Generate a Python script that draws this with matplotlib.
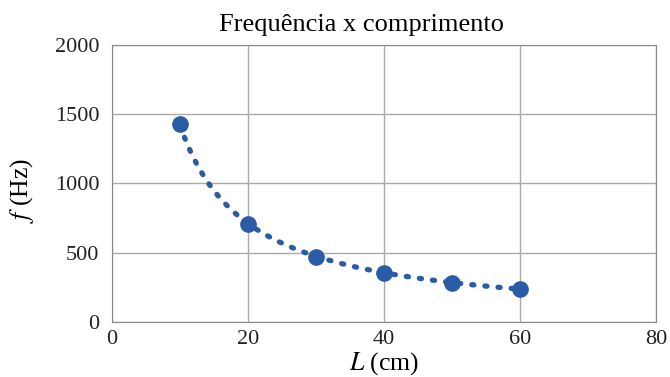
import numpy as np
import matplotlib.pyplot as plt

# dados
comprimento = [10, 20, 30, 40, 50, 60]          # L (cm)
frequencia = [1430, 710, 470, 355, 283, 240]    # f (Hz)

x_ticks = [0, 20, 40, 60, 80]
y_ticks = [0, 500, 1000, 1500, 2000]

COR = "#2b5ca8"

plt.rcParams["font.family"] = ["Liberation Serif", "DejaVu Serif"]
plt.rcParams["mathtext.fontset"] = "stix"

fig = plt.figure(figsize=(6.7, 3.77), dpi=100)
ax = fig.add_axes([0.167, 0.146, 0.812, 0.735])

# linha de tendencia (ajuste potencia)
L = np.array(comprimento, dtype=float)
f = np.array(frequencia, dtype=float)
b, a = np.polyfit(np.log(L), np.log(f), 1)
xs = np.linspace(L.min(), L.max(), 200)
ax.plot(xs, np.exp(a) * xs ** b, color=COR, linestyle=(0, (0.4, 2.1)),
        linewidth=3.8, dash_capstyle="round", zorder=2)

ax.plot(comprimento, frequencia, "o", color=COR, markersize=11, zorder=3)

ax.set_xlim(0, 80)
ax.set_ylim(0, 2000)
ax.set_xticks(x_ticks)
ax.set_yticks(y_ticks)
ax.tick_params(length=0, labelsize=16, colors="#222222")
ax.tick_params(axis="y", pad=9)
ax.tick_params(axis="x", pad=6)
ax.grid(True, color="#aaaaaa", linewidth=1.0)
ax.set_axisbelow(True)
for s in ax.spines.values():
    s.set_color("#888888")

ax.set_title("Frequência x comprimento", fontsize=19, x=0.458, pad=10)
ax.set_xlabel("$L$ (cm)", fontsize=18.5)
ax.xaxis.set_label_coords(0.5, -0.10)
ax.set_ylabel("$f$ (Hz)", fontsize=18.5)
ax.yaxis.set_label_coords(-0.14, 0.475)

fig.savefig("out.png", dpi=100)
